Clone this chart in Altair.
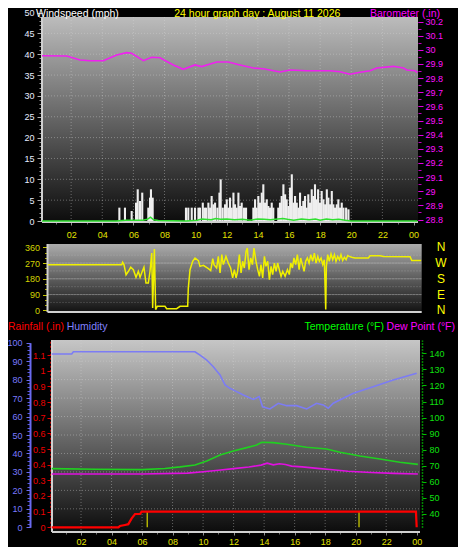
import altair as alt
import pandas as pd

FONT = "Liberation Sans"

# ---------------- text ----------------
MAIN_TITLE = "24 hour graph day : August 11 2026"

# ---------------- ticks ----------------
HOUR_TICKS = [2, 4, 6, 8, 10, 12, 14, 16, 18, 20, 22, 24]
HOUR_MINOR = list(range(1, 25))
GRID_HOURS = [2, 4, 6, 8, 10, 12, 14, 16, 18, 20, 22]
WIND_TICKS = [0, 5, 10, 15, 20, 25, 30, 35, 40, 45, 50]
WIND_MINOR = list(range(0, 51))
WIND_GRID = [5, 10, 15, 20, 25, 30, 35, 40, 45]
BARO_TICKS = [28.8, 28.9, 29.0, 29.1, 29.2, 29.3, 29.4, 29.5, 29.6, 29.7, 29.8, 29.9, 30.0, 30.1, 30.2]
BARO_MINOR = [28.8, 28.85, 28.9, 28.95, 29.0, 29.05, 29.1, 29.15, 29.2, 29.25, 29.3, 29.35, 29.4,
              29.45, 29.5, 29.55, 29.6, 29.65, 29.7, 29.75, 29.8, 29.85, 29.9, 29.95, 30.0, 30.05,
              30.1, 30.15, 30.2]
DIR_TICKS = [0, 90, 180, 270, 360]
DIR_MINOR = [0, 30, 60, 90, 120, 150, 180, 210, 240, 270, 300, 330, 360]
DIR_GRID = [45, 90, 135, 180, 225, 270, 315]
DIR_NAMES = ["N", "E", "S", "W", "N"]
HUM_TICKS = [0, 10, 20, 30, 40, 50, 60, 70, 80, 90, 100]
HUM_MINOR = list(range(0, 101, 2))
HUM_GRID = [10, 20, 30, 40, 50, 60, 70, 80, 90]
RAIN_TICKS = [0, 0.1, 0.2, 0.3, 0.4, 0.5, 0.6, 0.7, 0.8, 0.9, 1, 1.1]
TEMP_TICKS = [40, 50, 60, 70, 80, 90, 100, 110, 120, 130, 140]

# ---------------- data ----------------
baro_h = [0.13, 1.72, 2.57, 3.21, 4.07, 4.93, 5.57, 5.89, 6.64, 7.18, 7.71, 8.57, 9.21, 9.96,
          10.39, 11.36, 12.10, 12.85, 13.71, 14.35, 15.42, 16.07, 17.14, 18.64, 19.28, 19.92,
          20.57, 21.21, 21.64, 22.71, 23.35, 23.57, 24.10, 24.25]
baro_v = [29.958, 29.956, 29.928, 29.923, 29.923, 29.963, 29.980, 29.975, 29.923, 29.947, 29.944,
          29.893, 29.862, 29.893, 29.881, 29.914, 29.914, 29.893, 29.871, 29.866, 29.843, 29.857,
          29.852, 29.852, 29.845, 29.827, 29.841, 29.852, 29.871, 29.883, 29.871, 29.857, 29.852, 29.838]

gust_h = [5.10, 5.46, 5.89, 6.17, 6.28, 6.43, 6.57, 6.96, 7.07, 7.13, 7.24,
          9.38, 9.53, 9.75, 9.96, 10.18, 10.28, 10.46, 10.56, 10.67, 10.82, 10.93, 11.03, 11.14,
          11.25, 11.40, 11.53, 11.61, 11.74, 11.89, 12.00, 12.10, 12.21, 12.32, 12.43, 12.53,
          12.64, 12.75, 12.85, 12.96, 13.11, 13.24,
          13.71, 13.82, 13.92, 14.03, 14.14, 14.25, 14.35, 14.46, 14.57, 14.67, 14.78, 14.89, 14.99,
          15.31, 15.42, 15.53, 15.64, 15.75, 15.85, 15.96, 16.07, 16.18, 16.28, 16.39, 16.50,
          16.60, 16.71, 16.82, 16.92, 17.03, 17.14, 17.24, 17.35, 17.46, 17.56, 17.67, 17.78,
          17.87, 17.99, 18.10, 18.21, 18.32, 18.43, 18.53, 18.64, 18.75, 18.85, 18.96, 19.07,
          19.17, 19.28, 19.39, 19.50, 19.67, 19.82]
gust_v = [3.2, 3.2, 2.4, 4.4, 7.6, 4.8, 6.8, 3.2, 5.6, 7.6, 5.6,
          3.2, 3.2, 3.2, 3.2, 3.2, 3.2, 4.4, 3.2, 3.2, 4.4, 3.2, 6.0, 4.0, 4.4, 3.2, 6.8, 10.0,
          3.2, 4.0, 5.2, 3.2, 5.6, 3.2, 6.8, 4.0, 3.2, 6.8, 3.6, 4.4, 3.2, 3.2,
          3.2, 5.2, 3.2, 6.0, 4.4, 6.8, 8.8, 4.4, 5.2, 3.6, 3.2, 4.4, 3.2,
          3.2, 4.4, 6.0, 8.8, 6.4, 5.2, 3.6, 8.0, 11.2, 4.4, 6.0, 4.4, 3.2, 6.8, 3.6, 4.8, 6.0,
          3.2, 6.4, 4.4, 7.6, 6.0, 8.8, 5.2, 7.6, 4.4, 7.2, 5.2, 4.0, 7.6, 5.6, 4.0, 7.2, 4.0,
          3.2, 4.0, 5.2, 3.2, 4.4, 3.2, 3.2, 2.8]

avg_h = [0.13, 4.9, 5.5, 6.6, 6.9, 7.1, 7.3, 7.6, 9.4, 10.1, 10.4, 11.0, 11.3, 11.6, 12.0, 12.5,
         13.0, 13.5, 14.0, 14.4, 14.8, 15.6, 15.9, 16.3, 16.8, 17.3, 17.7, 18.0, 18.4, 18.8,
         19.2, 19.6, 20.0, 24.25]
avg_v = [0, 0, 0.2, 0.2, 0.4, 0.9, 0.3, 0.1, 0, 0.2, 0.5, 0.3, 0.6, 0.4, 0.5, 0.3, 0.4, 0.2,
         0.5, 0.4, 0.3, 0.6, 0.4, 0.2, 0.5, 0.3, 0.5, 0.2, 0.5, 0.3, 0.4, 0.2, 0, 0]

dir_h = [0.5, 5.25, 5.31, 5.40, 5.53, 5.68, 5.83, 6.00, 6.17, 6.32,
         6.43, 6.53, 6.68, 6.81, 6.96, 7.07, 7.18, 7.24, 7.35, 7.43,
         7.54, 8.03, 8.14, 8.78, 9.00, 9.49, 9.53, 9.64, 9.81, 9.96,
         10.18, 10.28, 10.50, 10.82, 10.97, 11.10, 11.18, 11.35, 11.46, 11.57,
         11.68, 11.78, 11.95, 12.10, 12.25, 12.38, 12.49, 12.60, 12.70, 12.81,
         12.92, 13.02, 13.13, 13.24, 13.32, 13.43, 13.54, 13.65, 13.75, 13.88,
         13.99, 14.10, 14.20, 14.31, 14.42, 14.52, 14.63, 14.74, 14.85, 14.95,
         15.06, 15.17, 15.27, 15.38, 15.49, 15.60, 15.75, 15.90, 16.02, 16.11,
         16.22, 16.32, 16.43, 16.54, 16.65, 16.75, 16.86, 16.97, 17.07, 17.18,
         17.29, 17.40, 17.52, 17.63, 17.74, 17.85, 17.95, 18.06, 18.17, 18.27,
         18.36, 18.40, 18.49, 18.59, 18.70, 18.81, 18.92, 19.02, 19.13, 19.24,
         19.34, 19.45, 19.56, 19.67, 19.77, 19.88, 20.03, 20.24, 21.10, 21.21,
         21.85, 22.07, 23.78, 23.89, 24.49]
dir_v = [260, 260, 274, 260, 203, 223, 246, 232, 189, 223,
         189, 213, 246, 156, 156, 223, 327, 13, 350, 4,
         23, 23, 9, 9, 23, 23, 127, 232, 280, 299,
         284, 251, 257, 238, 227, 295, 261, 242, 308, 213,
         318, 261, 308, 270, 242, 185, 232, 185, 223, 318,
         213, 280, 242, 337, 356, 232, 299, 261, 356, 280,
         232, 194, 261, 185, 308, 251, 280, 175, 251, 204,
         270, 223, 270, 232, 194, 223, 194, 232, 204, 270,
         242, 299, 261, 318, 232, 299, 261, 223, 280, 299,
         270, 318, 280, 327, 270, 308, 280, 299, 261, 289,
         4, 251, 318, 280, 322, 289, 318, 280, 308, 289,
         318, 284, 303, 289, 313, 308, 303, 299, 299, 312,
         312, 308, 306, 284, 284]

hum_h = [0.08, 1.39, 1.50, 9.47, 9.80, 10.24, 10.67, 11.11, 11.44, 11.76, 12.20, 12.64, 13.29,
         13.68, 13.90, 14.38, 14.93, 15.48, 16.13, 16.79, 17.44, 17.88, 18.20, 18.53, 19.85,
         21.15, 22.46, 24.00]
hum_v = [93.9, 93.9, 95.1, 95.1, 93.3, 90.6, 87.0, 82.5, 77.1, 75.3, 73.5, 71.7, 69.3, 70.8,
         65.3, 64.1, 67.2, 65.9, 65.9, 64.1, 67.2, 66.3, 64.5, 67.2, 72.6, 76.2, 79.8, 83.4]

temp_h = [0.08, 3.0, 6.0, 7.5, 8.5, 9.47, 10.24, 11.11, 11.98, 12.86, 13.51, 13.84, 14.60,
          15.48, 16.79, 18.10, 18.97, 20.28, 21.59, 22.90, 24.08]
temp_v = [68.2, 67.8, 67.6, 68.3, 69.3, 70.5, 73.0, 76.7, 79.2, 81.3, 82.9, 84.6, 84.4, 83.4,
          81.5, 80.4, 78.4, 76.1, 74.2, 72.2, 70.9]

dew_h = [0.08, 6.0, 9.0, 10.0, 11.0, 12.0, 13.0, 13.8, 14.2, 14.6, 15.0, 15.4, 15.8, 16.5,
         17.5, 18.5, 19.5, 21.0, 22.5, 24.08]
dew_v = [64.9, 64.9, 65.4, 66.3, 67.2, 68.2, 69.2, 70.4, 71.6, 70.6, 71.3, 70.8, 69.8, 69.3,
         68.4, 67.5, 66.6, 65.8, 65.3, 64.9]

rain_h = [0.08, 4.45, 4.55, 4.88, 5.10, 5.32, 5.54, 5.87, 5.97, 23.95, 24.0]
rain_v = [0, 0, 0.008, 0.015, 0.02, 0.057, 0.085, 0.085, 0.1, 0.1, 0]

sun_h = [6.34, 20.22]

# ---------------- scales (pixel ranges inside one 450x539 canvas) ----------------
def sc(domain, rng):
    return alt.Scale(domain=domain, range=rng, nice=False, zero=False)

XT = sc([0, 24], [32, 405.5])        # top & middle panel time
XB = sc([0, 24], [42.5, 408.7])      # bottom panel time
WIND = sc([0, 50], [213, 4.5])
BARO = sc([28.8, 30.2], [211.5, 13.5])
DIR = sc([0, 360], [302.3, 239.3])
HUM = sc([0, 100], [519.3, 334.7])
RAIN = sc([0, 1.2], [519.3, 331.4])
TEMP = sc([31.7, 148.3], [519.3, 332])

one = pd.DataFrame({"a": [0]})
layers = []


def axis_layer(channel, values, scale, **kw):
    base = dict(title=None, grid=False, labelFont=FONT, labelFontSize=9, labelOverlap=False,
                labelFlush=False, domain=False, values=values)
    base.update(kw)
    axis = alt.Axis(**base)
    df = pd.DataFrame({"v": values})
    if channel == "y":
        enc = dict(y=alt.Y("v:Q", scale=scale, axis=axis), x=alt.value(0))
    else:
        enc = dict(x=alt.X("v:Q", scale=scale, axis=axis), y=alt.value(0))
    return alt.Chart(df).mark_point(opacity=0).encode(**enc)


def grad(top, bottom):
    return alt.LinearGradient(gradient="linear",
                              stops=[alt.GradientStop(color=top, offset=0),
                                     alt.GradientStop(color=bottom, offset=1)],
                              x1=0, x2=0, y1=0, y2=1)


def panel(x0, x1, y0, y1, top, bottom):
    return alt.Chart(one).mark_rect(color=grad(top, bottom)).encode(
        x=alt.value(x0), x2=alt.value(x1), y=alt.value(y0), y2=alt.value(y1))


def frame(x0, x1, y0, y1):
    return [
        alt.Chart(one).mark_rule(color="#d0d0d0", strokeWidth=2).encode(
            x=alt.value(x0), y=alt.value(y0), y2=alt.value(y1)),
        alt.Chart(one).mark_rule(color="#d0d0d0", strokeWidth=2).encode(
            x=alt.value(x0), x2=alt.value(x1), y=alt.value(y1)),
    ]


def hgrid(values, ys, x0, x1, opacity=0.4, dash=(1, 2), color="#d8d8d8"):
    return alt.Chart(pd.DataFrame({"v": values})).mark_rule(
        color=color, strokeDash=list(dash), opacity=opacity, strokeWidth=1).encode(
        y=alt.Y("v:Q", scale=ys, axis=None), x=alt.value(x0), x2=alt.value(x1))


def vgrid(values, xs, y0, y1, opacity=0.4):
    return alt.Chart(pd.DataFrame({"v": values})).mark_rule(
        color="#d8d8d8", strokeDash=[1, 2], opacity=opacity, strokeWidth=1).encode(
        x=alt.X("v:Q", scale=xs, axis=None), y=alt.value(y0), y2=alt.value(y1))


def line(h, v, xs, ys, color, width=1.6):
    df = pd.DataFrame({"h": h, "v": v})
    return alt.Chart(df).mark_line(color=color, strokeWidth=width).encode(
        x=alt.X("h:Q", scale=xs, axis=None), y=alt.Y("v:Q", scale=ys, axis=None))


def text(s, x, y, color, align="left", size=10.5):
    return alt.Chart(one).mark_text(text=s, color=color, align=align, baseline="alphabetic",
                                    font=FONT, fontSize=size).encode(x=alt.value(x), y=alt.value(y))


HOUR_LABEL = "datum.value == 24 ? '00' : (datum.value < 10 ? '0' + datum.value : '' + datum.value)"

# ---------------- top panel: wind & barometer ----------------
layers.append(panel(34, 410, 9, 214, "#bcbcbc", "#0c0c0c"))
layers.append(hgrid(WIND_GRID, WIND, 34, 410))
layers.append(vgrid(GRID_HOURS, XT, 9, 214))
layers += frame(34, 410, 9, 214)
layers.append(alt.Chart(pd.DataFrame({"h": gust_h, "v": gust_v})).mark_rule(
    color="#eeeeee", strokeWidth=2.1).encode(
    x=alt.X("h:Q", scale=XT, axis=None), y=alt.Y("v:Q", scale=WIND, axis=None), y2=alt.datum(0)))
layers.append(line(avg_h, avg_v, XT, WIND, "#30e030", 1.5))
layers.append(line(baro_h, baro_v, XT, BARO, "#f020f0", 1.6))

layers.append(axis_layer("y", WIND_MINOR, WIND, orient="left", offset=-34, labels=False,
                         tickSize=3, tickColor="#9a9a9a"))
layers.append(axis_layer("y", WIND_TICKS, WIND, orient="left", offset=-34, tickSize=5,
                         tickColor="#b0b0b0", labelColor="#e6ecff", labelPadding=3))
layers.append(axis_layer("y", BARO_MINOR, BARO, orient="right", offset=-40, labels=False,
                         tickSize=3, tickColor="#c000c0"))
layers.append(axis_layer("y", BARO_TICKS, BARO, orient="right", offset=-40, tickSize=5,
                         tickColor="#e000e0", labelColor="#ff10ff", labelPadding=2,
                         labelExpr="format(datum.value, '~g')"))
layers.append(axis_layer("x", HOUR_MINOR, XT, orient="bottom", offset=-325, labels=False,
                         tickSize=2, tickColor="#707070"))
layers.append(axis_layer("x", HOUR_TICKS, XT, orient="bottom", offset=-325, tickSize=3,
                         tickColor="#909090", labelColor="#e4e400", labelPadding=5,
                         labelExpr=HOUR_LABEL))

layers.append(text("Windspeed (mph)", 28, 8.5, "#ffffff"))
layers.append(text(MAIN_TITLE, 249.3, 8.5, "#ffff00", align="center"))
layers.append(text("Barometer (.in)", 362, 8.5, "#ff00ff"))

# ---------------- middle panel: wind direction ----------------
layers.append(panel(39.5, 413.7, 236, 304, "#acacac", "#121212"))
layers.append(hgrid(DIR_GRID, DIR, 39.5, 413.7, opacity=0.35))
layers.append(hgrid([90, 180, 270], DIR, 39.5, 413.7, opacity=0.3, dash=(4, 0)))
layers += frame(39.5, 413.7, 236, 304)
layers.append(line(dir_h, dir_v, XT, DIR, "#f0f000", 1.5))
layers.append(axis_layer("y", DIR_MINOR, DIR, orient="left", offset=-39.5, labels=False,
                         tickSize=3, tickColor="#b0b000"))
layers.append(axis_layer("y", DIR_TICKS, DIR, orient="left", offset=-39.5, tickSize=5,
                         tickColor="#c8c800", labelColor="#d4d400", labelPadding=3))
layers.append(alt.Chart(pd.DataFrame({"d": DIR_TICKS, "n": DIR_NAMES})).mark_text(
    color="#ffff00", font=FONT, fontSize=12, align="center", baseline="middle").encode(
    y=alt.Y("d:Q", scale=DIR, axis=None), x=alt.value(433), text="n:N"))

# ---------------- bottom panel: rain, humidity, temperature, dew point ----------------
layers.append(panel(44, 412, 332, 524, "#c6c6c6", "#0c0c0c"))
layers.append(hgrid(HUM_GRID, HUM, 44, 412))
layers.append(vgrid(GRID_HOURS, XB, 332, 524))
layers += frame(44, 412, 332, 524)
layers.append(line(hum_h, hum_v, XB, HUM, "#7c7cf4", 1.6))
layers.append(line(temp_h, temp_v, XB, TEMP, "#20d020", 1.6))
layers.append(line(dew_h, dew_v, XB, TEMP, "#e010e0", 1.6))
layers.append(alt.Chart(pd.DataFrame({"h": sun_h})).mark_rule(color="#c8c800", strokeWidth=1.3).encode(
    x=alt.X("h:Q", scale=XB, axis=None), y=alt.YDatum(0.1, scale=RAIN, axis=None),
    y2=alt.datum(0)))
layers.append(line(rain_h, rain_v, XB, RAIN, "#ff0000", 2.2))

layers.append(axis_layer("y", HUM_MINOR, HUM, orient="left", offset=-22, labels=False,
                         tickSize=3, tickColor="#5a5ae0"))
layers.append(axis_layer("y", HUM_TICKS, HUM, orient="left", offset=-22, tickSize=4,
                         tickColor="#6a6af0", labelColor="#7a7aff", labelPadding=4,
                         domain=True, domainColor="#6a6af0", domainWidth=2))
layers.append(axis_layer("y", RAIN_TICKS, RAIN, orient="left", offset=-42.5, tickSize=3.5,
                         tickColor="#e00000", labelColor="#ee0000", labelPadding=2,
                         domain=True, domainColor="#e00000", domainDash=[2, 2], domainWidth=1.5,
                         labelExpr="format(datum.value, '~g')"))
layers.append(axis_layer("y", TEMP_TICKS, TEMP, orient="right", offset=-36, tickSize=4,
                         tickColor="#00c000", labelColor="#10e010", labelPadding=3,
                         domain=True, domainColor="#00b000", domainDash=[1.5, 1.5], domainWidth=1.5))
layers.append(axis_layer("x", HOUR_MINOR, XB, orient="bottom", offset=-15, labels=False,
                         tickSize=2, tickColor="#707070"))
layers.append(axis_layer("x", HOUR_TICKS, XB, orient="bottom", offset=-15, tickSize=3,
                         tickColor="#909090", labelColor="#e4e400", labelPadding=2,
                         labelExpr=HOUR_LABEL))

layers.append(text("Rainfall (.in)", 0, 322, "#ff0000"))
layers.append(text("Humidity", 58.7, 322, "#8080ff"))
layers.append(text("Temperature (°F)", 376, 322, "#00ff00", align="right"))
layers.append(text("Dew Point (°F)", 447, 322, "#ff00ff", align="right"))

chart = alt.layer(*layers).properties(
    width=450, height=539, background="#000000", padding=0,
    autosize=alt.AutoSizeParams(type="none"),
).resolve_scale(x="independent", y="independent").configure_view(strokeWidth=0)

chart.save("out.html", embed_options={"renderer": "svg", "actions": False})
